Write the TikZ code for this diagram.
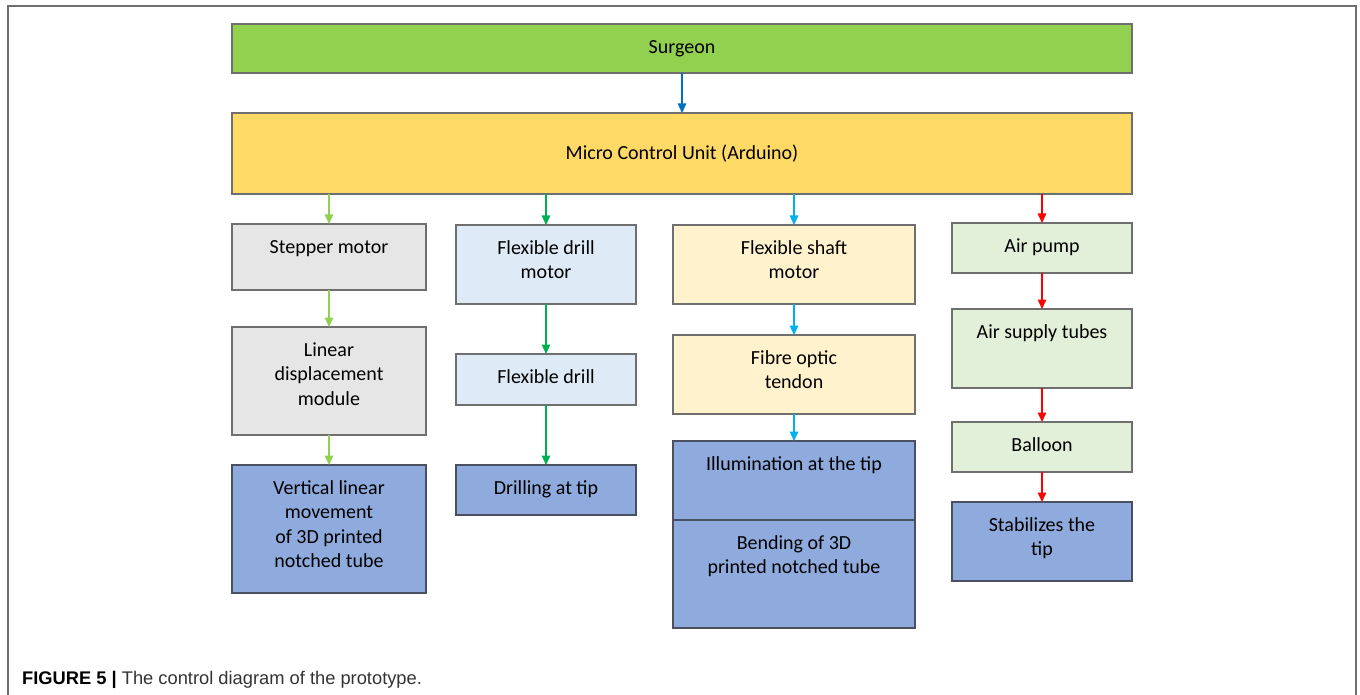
\documentclass[tikz,border=0pt]{standalone}
\usepackage{fontspec}
\setmainfont{Carlito}
\newfontfamily\capfont{Liberation Sans}
\usetikzlibrary{arrows.meta}
\definecolor{cSurgeon}{HTML}{92D050}
\definecolor{cMcu}{HTML}{FFD966}
\definecolor{cGray}{HTML}{E7E6E6}
\definecolor{cLBlue}{HTML}{DEEBF7}
\definecolor{cLYellow}{HTML}{FFF2CC}
\definecolor{cLGreen}{HTML}{E2F0D9}
\definecolor{cBlue}{HTML}{8FAADC}
\definecolor{cEdge}{HTML}{6F6F6F}
\definecolor{cEdgeB}{HTML}{4A5060}
\definecolor{aBlue}{HTML}{0070C0}
\definecolor{aLGreen}{HTML}{92D050}
\definecolor{aGreen}{HTML}{00B050}
\definecolor{aCyan}{HTML}{00B0F0}
\definecolor{aRed}{HTML}{FF0000}
\definecolor{cFrame}{HTML}{6E6E6E}
\definecolor{cCap}{HTML}{333333}
\newcommand\boxtxt[3]{\parbox[c][#2pt][t]{#1pt}{\centering\vspace*{12pt}\strut #3}}
\tikzset{
  box/.style={draw=cEdge, line width=1.2pt, anchor=north west, inner sep=0pt, outer sep=0pt,
    font=\fontsize{20}{24.5}\selectfont},
  bbox/.style={box, draw=cEdgeB, fill=cBlue},
  arr/.style={line width=1.4pt, -{Triangle[width=8.5pt,length=9.5pt]}},
}
\begin{document}
\begin{tikzpicture}[x=1pt,y=-1pt]
\useasboundingbox (0,0) rectangle (1360,695);
% frame
\draw[cFrame, line width=2pt] (8,695) -- (8,6) -- (1356,6) -- (1356,695);
% top
\node[box, fill=cSurgeon, minimum width=900pt, minimum height=49pt] (surgeon) at (232,24) {Surgeon};
\node[box, fill=cMcu, minimum width=900pt, minimum height=81pt] (mcu) at (232,113) {Micro Control Unit (Arduino)};
% column 1
\node[box, fill=cGray] (stepper) at (232,224) {\boxtxt{194}{66}{Stepper motor}};
\node[box, fill=cGray] (linear) at (232,327) {\boxtxt{194}{108}{Linear\\displacement\\module}};
\node[bbox] (vert) at (232,465) {\boxtxt{194}{128}{Vertical linear\\movement\\ of 3D printed\\notched tube}};
% column 2
\node[box, fill=cLBlue] (fdm) at (456,225) {\boxtxt{180}{79}{Flexible drill\\motor}};
\node[box, fill=cLBlue] (fd) at (456,354) {\boxtxt{180}{51}{Flexible drill}};
\node[bbox] (drill) at (456,465) {\boxtxt{180}{50}{Drilling at tip}};
% column 3
\node[box, fill=cLYellow] (fsm) at (673,225) {\boxtxt{242}{79}{Flexible shaft\\motor}};
\node[box, fill=cLYellow] (fot) at (673,335) {\boxtxt{242}{79}{Fibre optic\\tendon}};
\node[bbox] (illum) at (673,441) {\boxtxt{242}{79}{Illumination at the tip}};
\node[bbox] (bend) at (673,520) {\boxtxt{242}{108}{Bending of 3D\\printed notched tube}};
% column 4
\node[box, fill=cLGreen] (pump) at (952,223) {\boxtxt{180}{50}{Air pump}};
\node[box, fill=cLGreen] (tubes) at (952,309) {\boxtxt{180}{79}{Air supply tubes}};
\node[box, fill=cLGreen] (balloon) at (952,422) {\boxtxt{180}{50}{Balloon}};
\node[bbox] (stab) at (952,502) {\boxtxt{180}{79}{Stabilizes the\\tip}};
% arrows
\draw[arr, aBlue] (surgeon.south) -- (mcu.north);
\draw[arr, aLGreen] (mcu.south -| stepper.north) -- (stepper.north);
\draw[arr, aLGreen] (stepper.south) -- (linear.north);
\draw[arr, aLGreen] (linear.south) -- (vert.north);
\draw[arr, aGreen] (mcu.south -| fdm.north) -- (fdm.north);
\draw[arr, aGreen] (fdm.south) -- (fd.north);
\draw[arr, aGreen] (fd.south) -- (drill.north);
\draw[arr, aCyan] (mcu.south -| fsm.north) -- (fsm.north);
\draw[arr, aCyan] (fsm.south) -- (fot.north);
\draw[arr, aCyan] (fot.south) -- (illum.north);
\draw[arr, aRed] (mcu.south -| pump.north) -- (pump.north);
\draw[arr, aRed] (pump.south) -- (tubes.north);
\draw[arr, aRed] (tubes.south) -- (balloon.north);
\draw[arr, aRed] (balloon.south) -- (stab.north);
% caption
\node[anchor=base west, inner sep=0pt, text=cCap, font=\capfont\fontsize{18.3}{21}\selectfont] (caption) at (22,684)
  {\textbf{\color{black}FIGURE 5 |} The control diagram of the prototype.};
\end{tikzpicture}
\end{document}
